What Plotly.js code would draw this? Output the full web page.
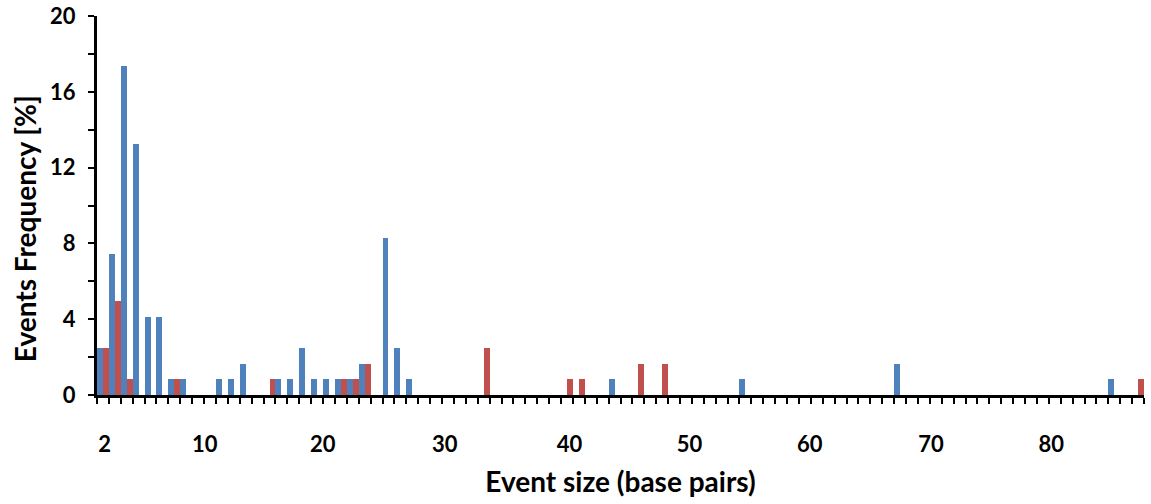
<!DOCTYPE html>
<html>
<head>
<meta charset="utf-8">
<script src="https://cdn.plot.ly/plotly-3.0.1.min.js"></script>
<style>
  html, body { margin: 0; padding: 0; background: #ffffff; }
  #chart { width: 1151px; height: 504px; }
</style>
</head>
<body>
<div id="chart"></div>
<script>
// Event sizes (base pairs) and frequencies (%)
const blueSizes = [2, 3, 4, 5, 6, 7, 8, 9, 12, 13, 14, 17, 18, 19, 20, 21, 22, 23, 24, 26, 27, 28, 45, 56, 69, 87];
const blueFreq  = [2.48, 7.44, 17.36, 13.22, 4.13, 4.13, 0.83, 0.83, 0.83, 0.83, 1.65, 0.83, 0.83, 2.48, 0.83, 0.83, 0.83, 0.83, 1.65, 8.26, 2.48, 0.83, 0.83, 0.83, 1.65, 0.83];

const redSizes = [2, 3, 4, 8, 16, 22, 23, 24, 34, 41, 42, 47, 49, 89];
const redFreq  = [2.48, 4.96, 0.83, 0.83, 0.83, 0.83, 0.83, 1.65, 2.48, 0.83, 0.83, 1.65, 1.65, 0.83];

const xTickLabels = ['2', '10', '20', '30', '40', '50', '60', '70', '80'];
const yTickValues = [0, 4, 8, 12, 16, 20];

const FONT = 'Lato, "Open Sans", "DejaVu Sans", sans-serif';

const traces = [
  {
    type: 'bar', name: 'Series 1',
    x: blueSizes, y: blueFreq,
    marker: { color: '#4F81BD', line: { width: 0 } },
    hoverinfo: 'x+y'
  },
  {
    type: 'bar', name: 'Series 2',
    x: redSizes, y: redFreq,
    marker: { color: '#C0504D', line: { width: 0 } },
    hoverinfo: 'x+y'
  }
];

const layout = {
  width: 1151, height: 504,
  margin: { l: 97, r: 7, t: 16, b: 109 },
  paper_bgcolor: '#ffffff', plot_bgcolor: '#ffffff',
  showlegend: false,
  barmode: 'group', bargap: 0, bargroupgap: 0,
  font: { family: FONT, color: '#000000', size: 22, weight: 'bold' },
  xaxis: {
    range: [1.5, 89.5],
    showgrid: false, zeroline: false,
    showline: true, linecolor: '#000000', linewidth: 3,
    tickmode: 'array',
    tickvals: [2.15, 10.55, 20.47, 30.72, 41.22, 51.3, 61.4, 71.6, 81.7],
    ticktext: xTickLabels,
    ticks: '',
    ticklabelstandoff: 28,
    tickfont: { family: FONT, size: 22, weight: 'bold', color: '#000000' },
    minor: { tick0: 1.5, dtick: 1, ticks: 'outside', ticklen: 6, tickwidth: 2, tickcolor: '#000000', showgrid: false },
    title: { text: 'Event size (base pairs)', font: { family: FONT, size: 28, weight: 'bold', color: '#000000' }, standoff: 16 },
    automargin: false, fixedrange: true
  },
  yaxis: {
    range: [0, 20],
    showgrid: false, zeroline: false,
    showline: true, linecolor: '#000000', linewidth: 3,
    tickmode: 'array',
    tickvals: yTickValues,
    ticks: 'outside', ticklen: 6, tickwidth: 2, tickcolor: '#000000',
    ticklabelstandoff: 8,
    tickfont: { family: FONT, size: 22, weight: 'bold', color: '#000000' },
    minor: { tick0: 0, dtick: 2, ticks: 'outside', ticklen: 6, tickwidth: 2, tickcolor: '#000000', showgrid: false },
    automargin: false, fixedrange: true
  },
  annotations: [
    {
      text: 'Events Frequency [%]',
      xref: 'paper', yref: 'paper',
      x: -0.0688, y: 0.44,
      xanchor: 'center', yanchor: 'middle',
      textangle: -90, showarrow: false,
      font: { family: FONT, size: 28, weight: 'bold', color: '#000000' }
    }
  ]
};

Plotly.newPlot('chart', traces, layout, { displayModeBar: false, staticPlot: true });
</script>
</body>
</html>
